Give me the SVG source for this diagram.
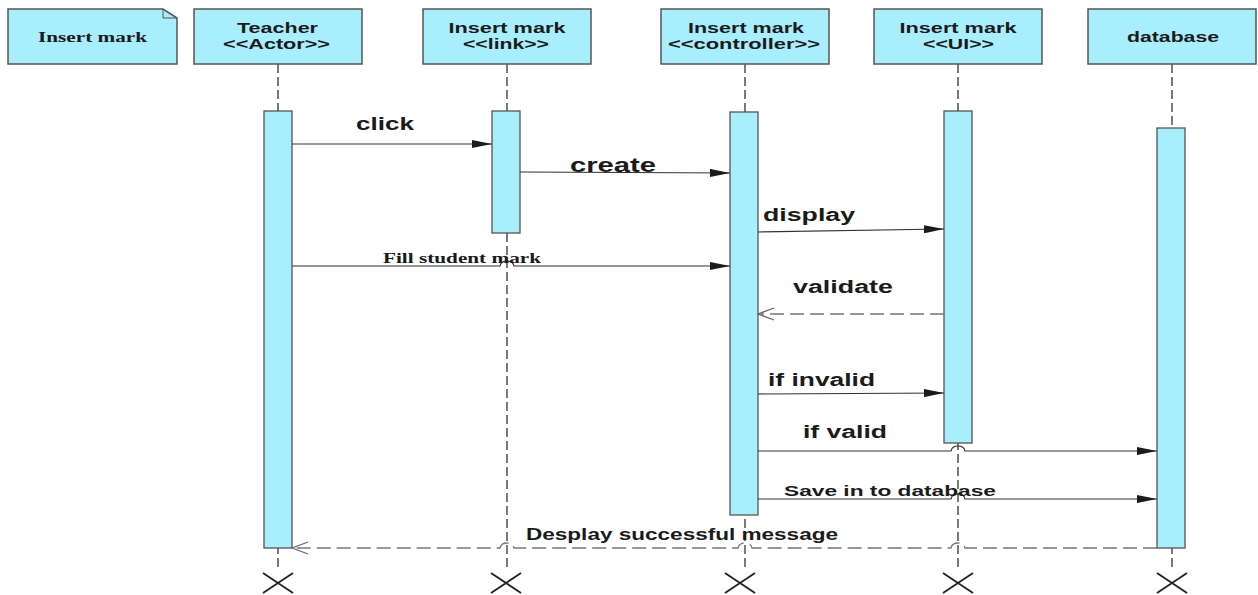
<svg xmlns="http://www.w3.org/2000/svg" width="1258" height="595" viewBox="0 0 1258 595">
<style>
.box{fill:#a8eefc;stroke:#555;stroke-width:1.5}
.act{fill:#a8eefc;stroke:#555;stroke-width:1.3}
.life{stroke:#333;stroke-width:1.3;stroke-dasharray:9 4;fill:none}
.hd{font-family:"Liberation Sans",Arial,sans-serif;font-weight:bold;font-size:15.5px;fill:#1b1b1b;text-anchor:middle}
.lbl{font-family:"Liberation Sans",Arial,sans-serif;font-weight:bold;fill:#1b1b1b}
.ser{font-family:"Liberation Serif","Times New Roman",serif;font-weight:bold;fill:#1b1b1b}
.msg{stroke:#333;stroke-width:1.2;fill:none;marker-end:url(#fill)}
.ret{stroke:#777;stroke-width:1.3;fill:none;stroke-dasharray:14 6;marker-end:url(#open)}
.x{stroke:#222;stroke-width:1.8}
</style>
<defs>
<marker id="fill" viewBox="0 0 20 8" refX="20" refY="4" markerWidth="20" markerHeight="8" markerUnits="userSpaceOnUse" orient="auto">
<path d="M0,0 L20,4 L0,8 z" fill="#1b1b1b"/>
</marker>
<marker id="open" viewBox="0 0 18 14" refX="17" refY="7" markerWidth="18" markerHeight="14" markerUnits="userSpaceOnUse" orient="auto">
<path d="M1,1 L17,7 L1,13" fill="none" stroke="#666" stroke-width="1.2"/>
</marker>
</defs>
<rect width="1258" height="595" fill="#fff"/>

<g id="note">
<path d="M8,9 H163 L177,18 V64 H8 Z" class="box"/>
<path d="M163,9 V18 H177" fill="none" stroke="#555" stroke-width="1"/>
<text x="92.5" y="42" class="ser" font-size="15" text-anchor="middle" textLength="109" lengthAdjust="spacingAndGlyphs">Insert mark</text>
</g>

<g id="teacher">
<line x1="278" y1="64" x2="278" y2="567" class="life"/>
<rect x="194" y="9" width="168" height="55" class="box"/>
<text x="277.5" y="33" class="hd" textLength="81" lengthAdjust="spacingAndGlyphs">Teacher</text>
<text x="276.5" y="49" class="hd" textLength="107" lengthAdjust="spacingAndGlyphs">&lt;&lt;Actor&gt;&gt;</text>
<rect x="264" y="111" width="28" height="437" class="act"/>
<path d="M263,573 L293,593 M293,573 L263,593" class="x"/>
</g>

<g id="link">
<line x1="507" y1="64" x2="507" y2="567" class="life"/>
<rect x="423" y="9" width="168" height="55" class="box"/>
<text x="507" y="33" class="hd" textLength="117" lengthAdjust="spacingAndGlyphs">Insert mark</text>
<text x="506" y="49" class="hd" textLength="86" lengthAdjust="spacingAndGlyphs">&lt;&lt;link&gt;&gt;</text>
<rect x="492" y="111" width="28" height="122" class="act"/>
<path d="M491,573 L521,593 M521,573 L491,593" class="x"/>
</g>

<g id="controller">
<line x1="745" y1="64" x2="745" y2="567" class="life"/>
<rect x="661" y="9" width="168" height="55" class="box"/>
<text x="746" y="33" class="hd" textLength="116" lengthAdjust="spacingAndGlyphs">Insert mark</text>
<text x="744" y="49" class="hd" textLength="152" lengthAdjust="spacingAndGlyphs">&lt;&lt;controller&gt;&gt;</text>
<rect x="730" y="112" width="28" height="403" class="act"/>
<path d="M725,573 L755,593 M755,573 L725,593" class="x"/>
</g>

<g id="ui">
<line x1="958" y1="64" x2="958" y2="567" class="life"/>
<rect x="874" y="9" width="168" height="55" class="box"/>
<text x="958" y="33" class="hd" textLength="117" lengthAdjust="spacingAndGlyphs">Insert mark</text>
<text x="958.5" y="49" class="hd" textLength="71" lengthAdjust="spacingAndGlyphs">&lt;&lt;UI&gt;&gt;</text>
<rect x="944" y="111" width="28" height="332" class="act"/>
<path d="M943,573 L973,593 M973,573 L943,593" class="x"/>
</g>

<g id="database">
<line x1="1172" y1="64" x2="1172" y2="567" class="life"/>
<rect x="1088" y="9" width="168" height="55" class="box"/>
<text x="1173" y="42" class="hd" textLength="92" lengthAdjust="spacingAndGlyphs">database</text>
<rect x="1157" y="128" width="28" height="420" class="act"/>
<path d="M1157,573 L1187,593 M1187,573 L1157,593" class="x"/>
</g>

<g id="connectors">
<path d="M292,144 H492" class="msg"/>
<text x="356" y="130" class="lbl" font-size="18" textLength="58" lengthAdjust="spacingAndGlyphs">click</text>

<path d="M520,172 L730,173" class="msg"/>
<text x="570" y="172" class="lbl" font-size="20" textLength="86" lengthAdjust="spacingAndGlyphs">create</text>

<path d="M758,232 L944,229" class="msg"/>
<text x="763" y="221" class="lbl" font-size="18" textLength="92" lengthAdjust="spacingAndGlyphs">display</text>

<path d="M292,266 H500 Q501,261 507,261 Q513,261 514,266 H730" class="msg"/>
<text x="383" y="263" class="ser" font-size="14" textLength="158" lengthAdjust="spacingAndGlyphs">Fill student mark</text>

<path d="M944,314 H758" class="ret"/>
<text x="793" y="293" class="lbl" font-size="18" textLength="100" lengthAdjust="spacingAndGlyphs">validate</text>

<path d="M758,394 L944,393" class="msg"/>
<text x="768" y="386" class="lbl" font-size="18" textLength="107" lengthAdjust="spacingAndGlyphs">if invalid</text>

<path d="M758,451 H951 Q952,446 958,446 Q964,446 965,451 H1157" class="msg"/>
<text x="803" y="438" class="lbl" font-size="18" textLength="84" lengthAdjust="spacingAndGlyphs">if valid</text>

<path d="M758,499 H951 Q952,494 958,494 Q964,494 965,499 H1157" class="msg"/>
<text x="784" y="496" class="lbl" font-size="15" textLength="212" lengthAdjust="spacingAndGlyphs">Save in to database</text>

<path d="M1157,548 H965 Q964,543 958,543 Q952,543 951,548 H752 Q751,543 745,543 Q739,543 738,548 H514 Q513,543 507,543 Q501,543 500,548 H292" class="ret"/>
<text x="526" y="540" class="lbl" font-size="16" textLength="312" lengthAdjust="spacingAndGlyphs">Desplay successful message</text>
</g>
</svg>
